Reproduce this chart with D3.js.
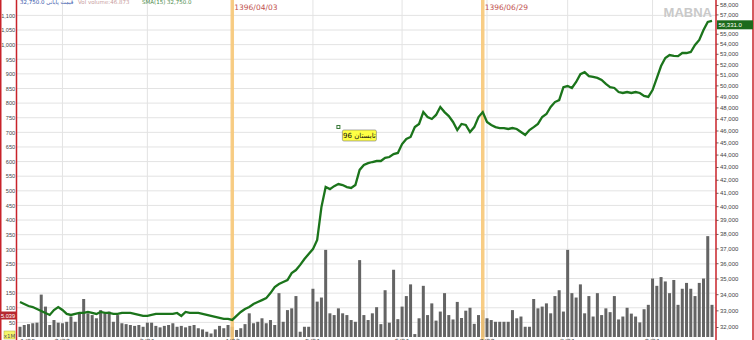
<!DOCTYPE html>
<html><head><meta charset="utf-8">
<script src="https://cdn.jsdelivr.net/npm/d3@7/dist/d3.min.js"></script>
<style>body{margin:0;background:#fff}svg{display:block;font-family:"DejaVu Sans",sans-serif}</style>
</head><body><svg id="c" width="754" height="340"></svg>
<script>
const prices = [33510,33390,33265,33200,33080,32960,32840,32720,33020,33200,33020,32780,32720,32780,32840,32840,32900,32840,32780,32900,
32840,32840,32780,32780,32840,32840,32840,32780,32720,32660,32660,32720,32780,32780,32780,32780,32780,32840,32660,32900,
32840,32840,32840,32780,32720,32660,32600,32540,32480,32480,32420,32660,32900,33080,33210,33390,33510,33630,33750,34070,
34450,34640,34770,34900,35350,35550,35890,36280,36620,36950,37580,39930,41440,41280,41510,41670,41590,41440,41370,41590,
42770,43160,43310,43400,43480,43480,43730,43800,44040,44130,44860,45280,45450,46290,46560,47590,47160,46990,47340,48040,
47590,47240,46730,46040,46560,46470,45870,46290,47160,47590,46730,46470,46290,46210,46210,46130,46210,46130,45870,45620,
46040,46290,46560,47160,47420,48040,48480,48660,49840,49940,49760,50310,51050,51240,50860,50780,50690,50500,50130,49840,
49760,49390,49300,49390,49300,49390,49300,49030,48940,49570,50680,51820,52590,52880,52790,52780,53080,53080,53180,53870,
54370,55390,56210,56331];
const volumes = [35,41,44,47,49,145,104,41,58,49,47,52,70,52,81,130,81,75,64,92,
81,87,52,75,47,44,41,38,41,35,49,49,38,33,38,41,47,35,38,33,
38,41,30,26,18,12,26,38,30,41,35,24,30,44,81,47,52,64,47,58,
41,150,52,92,98,140,18,35,35,165,121,135,298,81,75,98,81,75,58,52,
263,75,58,81,102,44,160,49,230,61,104,140,180,10,64,175,75,115,56,87,
150,75,60,120,65,90,100,45,75,92,64,58,52,52,52,52,92,64,70,35,
35,130,98,104,115,81,140,160,87,298,150,135,180,81,140,70,150,75,98,85,
140,60,70,100,80,70,50,95,110,200,175,205,190,150,195,110,165,185,165,140,
185,200,345,110];
const volTicks = [50,100,150,200,250,300,350,400,450,500,550,600,650,700,750,800,850,900,950,1000,1050,1100];
const priceTicks = [32000,33000,34000,35000,36000,37000,38000,39000,40000,41000,42000,43000,44000,45000,46000,47000,48000,49000,50000,51000,52000,53000,54000,55000,57000,58000];
const monthIdx = [0,10,30,50,69,90,110,129,149];
const monthLabels = ["1/05","2/02","3/01","4/03","5/01","6/01","7/02","8/01","9/01"];
const markerIdx = [50,109];
const markerLabels = ["1396/04/03","1396/06/29"];
const note = {idx: 75, price: 46300, text: "96 تابستان"};
const legendItems = [
  {x: 20, text: "32,750.0 قیمت پایانی", color: "#3355aa"},
  {x: 78, text: "Vol  volume:46.873", color: "#c9a0a0"},
  {x: 142, text: "SMA(15)  32,750.0", color: "#4a8a4a"}
];
const lastPrice = "56,331.0";
const lastVol = "5.039";

const svg = d3.select("#c");
const N = prices.length;
const x = d3.scaleLinear().domain([0, N-1]).range([20, 712]);
const yV = d3.scaleLinear().domain([0, 1100]).range([337, 15.4]);
const yP = d3.scaleLog().domain([32000, 58000]).range([327, 5]);
const L = 17, R = 716;

// grid
svg.append("g").selectAll("line").data(volTicks).join("line")
  .attr("x1", L).attr("x2", R).attr("y1", d=>yV(d)).attr("y2", d=>yV(d))
  .attr("stroke", "#e3e3e3").attr("stroke-width", 1);
svg.append("g").selectAll("line").data(monthIdx.slice(1)).join("line")
  .attr("x1", d=>x(d)).attr("x2", d=>x(d)).attr("y1", 0).attr("y2", 340)
  .attr("stroke", "#e3e3e3").attr("stroke-width", 1);

// bars
svg.append("g").selectAll("rect").data(volumes).join("rect")
  .attr("x", (d,i)=>x(i)-1.5).attr("width", 3)
  .attr("y", d=>yV(d)).attr("height", d=>yV(0)-yV(d))
  .attr("fill", "#646464");

// orange marker lines
svg.append("g").selectAll("rect").data(markerIdx).join("rect")
  .attr("x", d=>x(d)-1.75).attr("width", 3.5).attr("y", 0).attr("height", 340)
  .attr("fill", "#f7c878").attr("opacity", 0.9);
svg.append("g").selectAll("text").data(markerIdx).join("text")
  .attr("x", d=>x(d)+2).attr("y", 10).attr("font-size", 7.5).attr("fill", "#c0504d")
  .text((d,i)=>markerLabels[i]);

// price line
svg.append("path").datum(prices)
  .attr("d", d3.line().x((d,i)=>x(i)).y(d=>yP(d)))
  .attr("fill", "none").attr("stroke", "#1b741b").attr("stroke-width", 2.3);

// annotation
const nx = x(note.idx), ny = yP(note.price);
svg.append("rect").attr("x", nx-1.5).attr("y", ny-1.5).attr("width", 3).attr("height", 3)
  .attr("fill", "#fff").attr("stroke", "#3a7a3a").attr("stroke-width", 1);
svg.append("rect").attr("x", nx+4).attr("y", ny+3).attr("width", 34).attr("height", 11).attr("rx", 1.5)
  .attr("fill", "#ffff44").attr("stroke", "#777").attr("stroke-width", 0.6);
svg.append("text").attr("x", nx+21).attr("y", ny+11.5).attr("text-anchor", "middle")
  .attr("font-size", 7).attr("fill", "#111").text(note.text);

// legend
svg.append("g").selectAll("text").data(legendItems).join("text")
  .attr("x", d=>d.x).attr("y", 4).attr("font-size", 5.5).attr("fill", d=>d.color).text(d=>d.text);

// watermark
svg.append("text").attr("x", 712).attr("y", 17).attr("text-anchor", "end")
  .attr("font-size", 13).attr("font-weight", "bold").attr("fill", "#c9c9c9")
  .attr("font-family", "Liberation Sans, Arial, sans-serif").text("MABNA");

// left axis panel
svg.append("rect").attr("x", 0).attr("y", 0).attr("width", L).attr("height", 340).attr("fill", "#fff");
const la = svg.append("g").attr("transform", `translate(${L},0)`)
  .call(d3.axisLeft(yV).tickValues(volTicks).tickSize(0).tickPadding(1.8).tickFormat(d3.format(",")));
la.select(".domain").remove();
la.selectAll("text").attr("font-size", 5.6).attr("fill", "#444")
  .attr("font-family", "'Liberation Sans Narrow', 'Liberation Sans', sans-serif");
svg.append("line").attr("x1", 0.75).attr("x2", 0.75).attr("y1", 0).attr("y2", 340).attr("stroke", "#c8232a").attr("stroke-width", 1.5);
svg.append("line").attr("x1", L-0.5).attr("x2", L-0.5).attr("y1", 0).attr("y2", 340).attr("stroke", "#c8232a").attr("stroke-width", 1.5);
svg.append("rect").attr("x", 0).attr("y", 311.5).attr("width", 16).attr("height", 8).attr("fill", "#b5282e");
svg.append("text").attr("x", 8).attr("y", 317.5).attr("text-anchor", "middle").attr("font-size", 5.6)
  .attr("font-family", "'Liberation Sans', sans-serif").attr("fill", "#fff").text(lastVol);
svg.append("rect").attr("x", 4).attr("y", 331).attr("width", 11).attr("height", 8).attr("fill", "#f5f56a").attr("stroke", "#b0b040").attr("stroke-width", 0.5);
svg.append("text").attr("x", 9.5).attr("y", 337.5).attr("text-anchor", "middle").attr("font-size", 5.5).attr("fill", "#555").text("x1M");

// right axis panel
svg.append("rect").attr("x", R).attr("y", 0).attr("width", 754-R).attr("height", 340).attr("fill", "#fff");
const ra = svg.append("g").attr("transform", `translate(${R},0)`)
  .call(d3.axisRight(yP).tickValues(priceTicks).tickSize(2.5).tickPadding(1.5).tickFormat(d3.format(",")));
ra.select(".domain").remove();
ra.selectAll("line").attr("stroke", "#666");
ra.selectAll("text").attr("font-size", 6).attr("fill", "#444").attr("font-family", "'Liberation Sans', sans-serif");
svg.append("line").attr("x1", R).attr("x2", R).attr("y1", 0).attr("y2", 340).attr("stroke", "#c8232a").attr("stroke-width", 1.5);
svg.append("line").attr("x1", 753).attr("x2", 753).attr("y1", 0).attr("y2", 340).attr("stroke", "#c8232a").attr("stroke-width", 1.5);
const lp = yP(prices[N-1]) + 4;
svg.append("rect").attr("x", R+1).attr("y", lp-4.5).attr("width", 754-R-2).attr("height", 9).attr("fill", "#1c6b1c");
svg.append("text").attr("x", R+2.5).attr("y", lp+2.2).attr("font-size", 6)
  .attr("font-family", "'Liberation Sans', sans-serif").attr("fill", "#fff").text(lastPrice);

// bottom axis labels (cut off)
svg.append("g").selectAll("text").data(monthIdx).join("text")
  .attr("x", d=>x(d)).attr("y", 344).attr("text-anchor", (d,i)=>i===0?"start":"middle")
  .attr("font-size", 7).attr("fill", "#555").text((d,i)=>monthLabels[i]);
</script></body></html>
